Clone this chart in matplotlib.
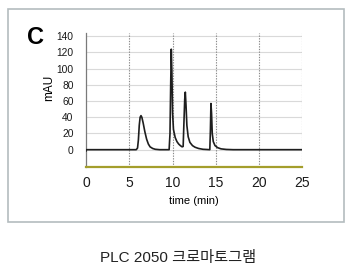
import matplotlib
matplotlib.use("Agg")
import matplotlib.pyplot as plt
from matplotlib.patches import Rectangle

plt.rcParams['font.family'] = ['Liberation Sans', 'Noto Sans CJK KR', 'DejaVu Sans']

# chromatogram trace (time in min, signal in mAU)
time = [0.0, 0.05, 1.0, 5.0, 5.8, 5.95, 6.05, 6.15, 6.25, 6.35, 6.45, 6.6, 6.8,
        7.0, 7.2, 7.4, 7.7, 8.0, 8.5, 9.6, 9.7, 9.78, 9.85, 9.92, 10.0, 10.1,
        10.3, 10.5, 10.7, 10.9, 11.1, 11.22, 11.3, 11.4, 11.47, 11.55, 11.65,
        11.8, 12.0, 12.3, 12.6, 13.0, 13.5, 14.0, 14.3, 14.37, 14.43, 14.5,
        14.58, 14.7, 14.9, 15.2, 15.6, 16.2, 17.0, 25.0]
signal = [-1.5, 0.0, 0.0, 0.0, 0.0, 2, 12, 30, 40, 42, 40, 33, 22,
          13, 7, 3.5, 1.5, 0.5, 0.0, 0.0, 20, 80, 124, 95, 45, 25,
          15, 10, 7, 5, 3.5, 4, 30, 62, 71, 55, 30,
          16, 9, 5, 3, 1.5, 0.5, 0.2, 0.0, 25, 57, 45,
          20, 10, 5, 2.5, 1, 0.3, 0.0, 0.0]

y_ticks = [0, 20, 40, 60, 80, 100, 120, 140]
x_ticks = [0, 5, 10, 15, 20, 25]

fig = plt.figure(figsize=(3.56, 2.76), dpi=100)

# light frame around the panel
fig.patches.append(Rectangle((8 / 356, 1 - 222 / 276), 336 / 356, 213 / 276,
                             transform=fig.transFigure, fill=False,
                             edgecolor='#b4bcbf', linewidth=1.2))

ax = fig.add_axes([0.2416, 0.396, 0.608, 0.486])
ax.set_xlim(0, 25)
ax.set_ylim(-21, 144.5)

for y in y_ticks:
    ax.axhline(y, color='#d9d9d9', linewidth=0.8, zorder=0)
for x in x_ticks[1:]:
    ax.axvline(x, color='#8a8a8a', linewidth=0.8, linestyle=(0, (1.2, 1.2)), zorder=1)

ax.plot(time, signal, color='#1e1e1e', linewidth=1.2, zorder=3)

for side in ['top', 'right']:
    ax.spines[side].set_visible(False)
ax.spines['left'].set_color('#7a7a7a')
ax.spines['left'].set_linewidth(0.9)
ax.spines['bottom'].set_color('#a49e2c')
ax.spines['bottom'].set_linewidth(1.6)

ax.set_yticks(y_ticks)
ax.set_xticks(x_ticks)
ax.tick_params(axis='y', length=0, pad=9, labelsize=7.4, labelcolor='#1a1a1a')
ax.tick_params(axis='x', length=0, pad=7, labelsize=10, labelcolor='#1a1a1a')
ax.set_ylabel('mAU', fontsize=8.5)
ax.yaxis.set_label_coords(-0.143, 0.586)
ax.set_xlabel('time (min)', fontsize=8, labelpad=4)

fig.text(35 / 356, 1 - 37 / 276, 'C', fontsize=17, fontweight='bold',
         ha='center', va='center')
fig.text(0.5, 1 - 258 / 276, 'PLC 2050 크로마토그램', fontsize=11,
         ha='center', va='center', color='#222222')

fig.savefig('out.png', dpi=100)
